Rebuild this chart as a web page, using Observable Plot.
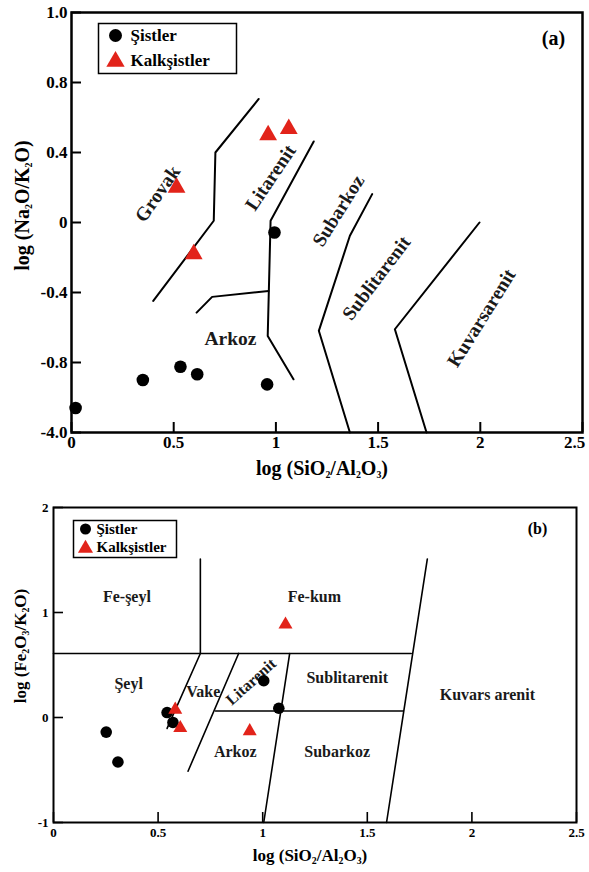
<!DOCTYPE html>
<html><head><meta charset="utf-8">
<script src="https://cdn.jsdelivr.net/npm/d3@7"></script>
<script src="https://cdn.jsdelivr.net/npm/@observablehq/plot@0.6"></script>
<style>
body{margin:0;background:#fff;}
#wrap{width:589px;}
#wrap svg{display:block;}
</style></head><body><div id="wrap"></div>
<script>
const red = "#e2231a";
const groups = ["Şistler", "Kalkşistler"];

// ---------- Panel (a) ----------
const aXTicks = [0, 0.5, 1, 1.5, 2, 2.5];
const aXLabels = ["0", "0.5", "1", "1.5", "2", "2.5"];
const aYTicks = [-1.2, -0.8, -0.4, 0, 0.4, 0.8, 1.2];
const aYLabels = ["-4.0", "-0.8", "-0.4", "0", "0.4", "0.8", "1.0"];
const aSistX = [0.02, 0.349, 0.533, 0.615, 0.957, 0.993];
const aSistY = [-1.06, -0.90, -0.824, -0.867, -0.925, -0.057];
const aKalkX = [0.514, 0.598, 0.962, 1.063];
const aKalkY = [0.20, -0.18, 0.50, 0.535];
const aLineGrovak = [[0.916, 0.706], [0.704, 0.40], [0.696, 0.01], [0.40, -0.448]];
const aLineLitarenit = [[1.185, 0.463], [0.974, 0.01], [0.960, -0.648], [1.086, -0.896]];
const aLineArkoz = [[0.964, -0.391], [0.688, -0.425], [0.612, -0.515]];
const aLineSubarkoz = [[1.471, 0.162], [1.362, -0.076], [1.210, -0.619], [1.362, -1.2]];
const aLineKuvars = [[1.996, 0.0], [1.582, -0.610], [1.737, -1.2]];
const aRegionNames = ["Grovak", "Litarenit", "Subarkoz", "Sublitarenit", "Kuvarsarenit", "Arkoz"];
const aRegionX = [0.421, 0.974, 1.306, 1.492, 2.006, 0.778];
const aRegionY = [0.164, 0.256, 0.067, -0.318, -0.546, -0.665];
const aRegionRot = [-55, -56, -58, -53, -58, 0];

// ---------- Panel (b) ----------
const bXTicks = [0, 0.5, 1, 1.5, 2, 2.5];
const bXLabels = ["0", "0.5", "1", "1.5", "2", "2.5"];
const bYTicks = [-1, 0, 1, 2];
const bYLabels = ["-1", "0", "1", "2"];
const bSistX = [0.252, 0.308, 0.543, 0.571, 1.005, 1.077];
const bSistY = [-0.139, -0.424, 0.047, -0.047, 0.35, 0.088];
const bKalkX = [0.582, 0.606, 0.938, 1.109];
const bKalkY = [0.075, -0.10, -0.13, 0.885];
const bLineFe = [[0.702, 1.51], [0.702, 0.61]];
const bLineTop = [[0, 0.61], [1.71, 0.61]];
const bLineRight = [[1.787, 1.51], [1.592, -1.0]];
const bLineMid = [[0.774, 0.062], [1.672, 0.062]];
const bLineVake = [[0.702, 0.61], [0.543, -0.104]];
const bLineLitarenit = [[0.885, 0.61], [0.643, -0.512]];
const bLineSub = [[1.129, 0.61], [1.005, -1.0]];
const bRegionNames = ["Fe-şeyl", "Fe-kum", "Şeyl", "Vake", "Litarenit", "Sublitarenit", "Kuvars arenit", "Arkoz", "Subarkoz"];
const bRegionX = [0.351, 1.247, 0.359, 0.716, 0.944, 1.404, 2.074, 0.869, 1.356];
const bRegionY = [1.147, 1.147, 0.325, 0.246, 0.341, 0.373, 0.215, -0.329, -0.329];
const bRegionRot = [0, 0, 0, 0, -42, 0, 0, 0, 0];

// ---------- helpers ----------
const pts = (xs, ys) => xs.map((x, i) => ({x, y: ys[i]}));
const lineRows = (lines) => lines.flatMap((l, k) => l.map(([x, y]) => ({x, y, id: k})));
const regions = (n, xs, ys, rs) => n.map((name, i) => ({name, x: xs[i], y: ys[i], rot: rs[i]}));
const fmt = (ticks, labels) => d => labels[ticks.indexOf(d)];
const FONT = "'Liberation Serif', 'Times New Roman', serif";
const T = {textAnchor: "middle", lineAnchor: "middle", fontWeight: "bold"};

function subscriptify(svg) {
  svg.querySelectorAll("text").forEach(t => {
    const s = t.textContent;
    if (!s.includes("_")) return;
    const fs = parseFloat(t.getAttribute("font-size") || getComputedStyle(t).fontSize) || 16;
    while (t.firstChild) t.removeChild(t.firstChild);
    const parts = s.split(/_(\d)/);
    let shifted = false;
    parts.forEach((p, i) => {
      if (!p) return;
      const ts = document.createElementNS("http://www.w3.org/2000/svg", "tspan");
      ts.textContent = p;
      if (i % 2 === 1) {
        ts.setAttribute("font-size", (fs * 0.62).toFixed(1));
        ts.setAttribute("dy", (fs * 0.22).toFixed(1));
        shifted = true;
      } else if (shifted) {
        ts.setAttribute("dy", (-fs * 0.22).toFixed(1));
        shifted = false;
      }
      t.appendChild(ts);
    });
  });
}

// ---------- Panel (a) plot ----------
const aW = 589, aH = 490, aML = 71, aMR = 7, aMT = 12, aMB = 58;
const aFW = aW - aML - aMR, aFH = aH - aMT - aMB;
const plotA = Plot.plot({
  width: aW, height: aH,
  marginLeft: aML, marginRight: aMR, marginTop: aMT, marginBottom: aMB,
  style: {fontFamily: FONT, background: "white", overflow: "visible"},
  x: {domain: [0, 2.5]},
  y: {domain: [-1.2, 1.2]},
  marks: [
    Plot.line(lineRows([aLineGrovak, aLineLitarenit, aLineArkoz, aLineSubarkoz, aLineKuvars]),
      {x: "x", y: "y", z: "id", stroke: "black", strokeWidth: 2}),
    Plot.tickX(aXTicks, {x: d => d, insetTop: aFH - 10, stroke: "black", strokeWidth: 2}),
    Plot.tickY(aYTicks, {y: d => d, insetRight: aFW - 10, stroke: "black", strokeWidth: 2}),
    Plot.frame({stroke: "black", strokeWidth: 2.5}),
    Plot.axisX(aXTicks.slice(0, -1), {tickSize: 0, tickPadding: 3, tickFormat: fmt(aXTicks, aXLabels), fontSize: 17, fontWeight: "bold", label: null}),
    Plot.axisX(aXTicks.slice(-1), {tickSize: 0, tickPadding: 3, dx: -8, tickFormat: fmt(aXTicks, aXLabels), fontSize: 17, fontWeight: "bold", label: null}),
    Plot.axisY(aYTicks, {tickSize: 0, tickPadding: 4, tickFormat: fmt(aYTicks, aYLabels), fontSize: 17, fontWeight: "bold", label: null}),
    Plot.text(regions(aRegionNames, aRegionX, aRegionY, aRegionRot),
      {x: "x", y: "y", text: "name", rotate: "rot", fontSize: 19.5, fontWeight: "bold", fill: "#1a1a1a"}),
    Plot.dot(pts(aSistX, aSistY), {x: "x", y: "y", r: 6.3, fill: "black"}),
    Plot.dot(pts(aKalkX, aKalkY), {x: "x", y: "y", r: 6.6, symbol: "triangle", fill: red}),
    // legend
    Plot.frame({insetLeft: 27, insetTop: 11, insetRight: 346, insetBottom: 359, stroke: "black", strokeWidth: 1.5}),
    Plot.dot([groups[0]], {frameAnchor: "top-left", dx: 44, dy: 23, r: 6.5, fill: "black"}),
    Plot.dot([groups[1]], {frameAnchor: "top-left", dx: 44, dy: 49, r: 6.8, symbol: "triangle", fill: red}),
    Plot.text([groups[0]], {...T, text: d => d, frameAnchor: "top-left", dx: 59, dy: 23, textAnchor: "start", fontSize: 17}),
    Plot.text([groups[1]], {...T, text: d => d, frameAnchor: "top-left", dx: 59, dy: 48, textAnchor: "start", fontSize: 17}),
    Plot.text(["(a)"], {...T, text: d => d, frameAnchor: "top-right", dx: -29, dy: 26, fontSize: 20}),
    // axis titles
    Plot.text(["log (SiO_2/Al_2O_3)"], {...T, text: d => d, frameAnchor: "bottom", dx: -5, dy: 36, fontSize: 20}),
    Plot.text(["log (Na_2O/K_2O)"], {...T, text: d => d, frameAnchor: "left", dx: -49, dy: -17, rotate: -90, fontSize: 20})
  ]
});

// ---------- Panel (b) plot ----------
const bW = 589, bH = 382, bML = 53, bMR = 13, bMT = 17, bMB = 50;
const bFW = bW - bML - bMR, bFH = bH - bMT - bMB;
const plotB = Plot.plot({
  width: bW, height: bH,
  marginLeft: bML, marginRight: bMR, marginTop: bMT, marginBottom: bMB,
  style: {fontFamily: FONT, background: "white", overflow: "visible"},
  x: {domain: [0, 2.5]},
  y: {domain: [-1, 2]},
  marks: [
    Plot.line(lineRows([bLineFe, bLineTop, bLineRight, bLineMid, bLineVake, bLineLitarenit, bLineSub]),
      {x: "x", y: "y", z: "id", stroke: "black", strokeWidth: 1.6}),
    Plot.tickX(bXTicks, {x: d => d, insetTop: bFH - 10, stroke: "black", strokeWidth: 1.6}),
    Plot.tickY(bYTicks, {y: d => d, insetRight: bFW - 10, stroke: "black", strokeWidth: 1.6}),
    Plot.frame({stroke: "black", strokeWidth: 2}),
    Plot.axisX(bXTicks, {tickSize: 0, tickPadding: 5, tickFormat: fmt(bXTicks, bXLabels), fontSize: 13, fontWeight: "bold", label: null}),
    Plot.axisY(bYTicks, {tickSize: 0, tickPadding: 5, tickFormat: fmt(bYTicks, bYLabels), fontSize: 13, fontWeight: "bold", label: null}),
    Plot.text(regions(bRegionNames, bRegionX, bRegionY, bRegionRot),
      {x: "x", y: "y", text: "name", rotate: "rot", fontSize: 16, fontWeight: "bold", fill: "#1a1a1a"}),
    Plot.dot(pts(bSistX, bSistY), {x: "x", y: "y", r: 5.8, fill: "black"}),
    Plot.dot(pts(bKalkX, bKalkY), {x: "x", y: "y", r: 5.2, symbol: "triangle", fill: red}),
    // legend
    Plot.frame({insetLeft: 20, insetTop: 13, insetRight: 400, insetBottom: 265, stroke: "black", strokeWidth: 1.5}),
    Plot.dot([groups[0]], {frameAnchor: "top-left", dx: 32, dy: 21.5, r: 5.5, fill: "black"}),
    Plot.dot([groups[1]], {frameAnchor: "top-left", dx: 32, dy: 41, r: 5.6, symbol: "triangle", fill: red}),
    Plot.text([groups[0]], {...T, text: d => d, frameAnchor: "top-left", dx: 43, dy: 21.5, textAnchor: "start", fontSize: 15}),
    Plot.text([groups[1]], {...T, text: d => d, frameAnchor: "top-left", dx: 43, dy: 40, textAnchor: "start", fontSize: 15}),
    Plot.text(["(b)"], {...T, text: d => d, frameAnchor: "top-right", dx: -39, dy: 21, fontSize: 16}),
    // axis titles
    Plot.text(["log (SiO_2/Al_2O_3)"], {...T, text: d => d, frameAnchor: "bottom", dx: -5, dy: 33, fontSize: 17}),
    Plot.text(["log (Fe_2O_3/K_2O)"], {...T, text: d => d, frameAnchor: "left", dx: -33, dy: -19, rotate: -90, fontSize: 17})
  ]
});

subscriptify(plotA);
subscriptify(plotB);
document.getElementById("wrap").append(plotA, plotB);
</script>
</body></html>
